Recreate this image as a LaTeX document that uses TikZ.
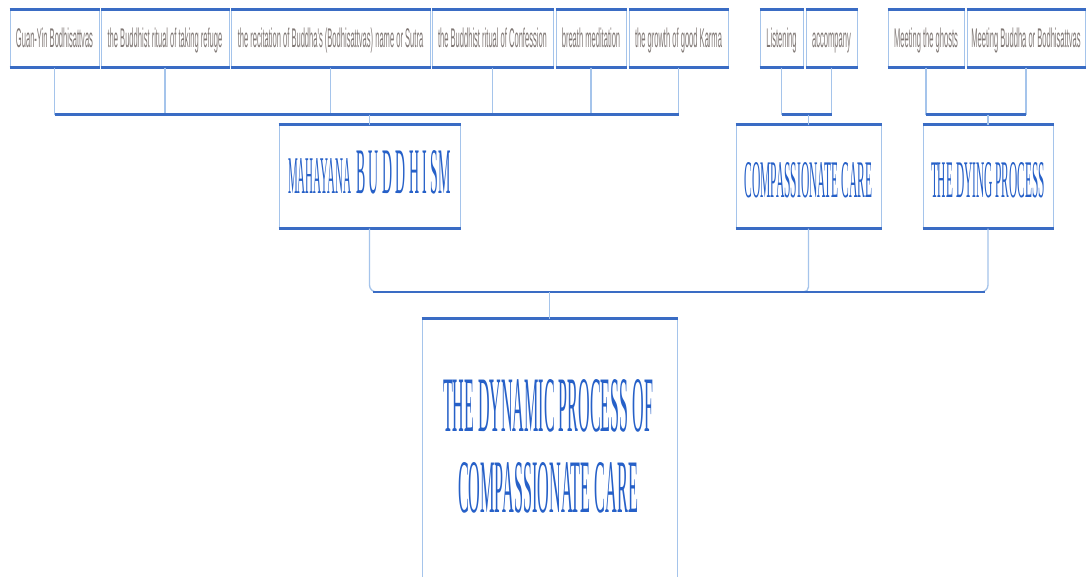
\documentclass[tikz,border=0pt]{standalone}
\usepackage{fontspec}
\usepackage{graphicx}
\newfontfamily\labelsans{Liberation Sans}
\newfontfamily\labelserif{Liberation Serif}
\definecolor{boxside}{RGB}{165,196,235}
\definecolor{boxedge}{RGB}{58,108,196}
\definecolor{titleblue}{RGB}{38,96,200}
\definecolor{graytext}{RGB}{128,120,117}
% condensed grey captions of the leaf boxes
\newcommand\squeeze[1]{\scalebox{0.28}[1]{#1}}
\begin{document}
\begin{tikzpicture}[x=1pt,y=-1pt,
  leafbox/.style={rectangle, draw=boxside, line width=1pt, inner sep=0pt,
    minimum height=57pt, text height=19.5pt, text depth=2pt,
    font=\labelsans\fontsize{27}{31}\selectfont, text=graytext},
  hubbox/.style={rectangle, draw=boxside, line width=1pt, inner sep=0pt,
    minimum height=103pt, font=\labelserif\fontsize{20}{24}\selectfont, text=titleblue},
  rootbox/.style={rectangle, draw=boxside, line width=1pt, inner sep=0pt},
  titletext/.style={inner sep=0pt, align=center, text=titleblue,
    font=\labelserif\fontsize{20}{81}\selectfont},
  edgebar/.style={draw=boxedge, line width=2.6pt},
  linkthin/.style={draw=boxside, line width=1.3pt},
  linkbar/.style={draw=boxedge, line width=2.6pt},
]
\useasboundingbox (0,0) rectangle (1087,576);
\fill[white] (0,0) rectangle (1087,576);

% leaf boxes
\node[leafbox, minimum width=89pt]  (t1)  at (54.5,38.5)  {\squeeze{Guan-Yin Bodhisattvas}};
\node[leafbox, minimum width=128pt] (t2)  at (165,38.5)   {\squeeze{the Buddhist ritual of taking refuge}};
\node[leafbox, minimum width=199pt] (t3)  at (330.5,38.5) {\squeeze{the recitation of Buddha's (Bodhisattvas) name or Sutra}};
\node[leafbox, minimum width=121pt] (t4)  at (492.5,38.5) {\squeeze{the Buddhist ritual of Confession}};
\node[leafbox, minimum width=70pt]  (t5)  at (591,38.5)   {\squeeze{breath meditation}};
\node[leafbox, minimum width=99pt]  (t6)  at (678.5,38.5) {\squeeze{the growth of good Karma}};
\node[leafbox, minimum width=43pt]  (t7)  at (781.5,38.5) {\squeeze{Listening}};
\node[leafbox, minimum width=51pt]  (t8)  at (831.5,38.5) {\squeeze{accompany}};
\node[leafbox, minimum width=76pt]  (t9)  at (926,38.5)   {\squeeze{Meeting the ghosts}};
\node[leafbox, minimum width=118pt] (t10) at (1026,38.5)  {\squeeze{Meeting Buddha or Bodhisattvas}};

% middle boxes
\node[hubbox, minimum width=181pt, text height=43pt, text depth=10pt] (mb) at (369.5,176.5)
  {\resizebox{63pt}{35pt}{MAHAYANA}\hspace{5pt}\resizebox{95pt}{43pt}{B U D D H I SM}};
\node[hubbox, minimum width=145pt, text height=47pt, text depth=6pt] (cc) at (808.5,176.5)
  {\resizebox{128pt}{35pt}{COMPASSIONATE CARE}};
\node[hubbox, minimum width=130pt, text height=47pt, text depth=6pt] (dp) at (988,176.5)
  {\resizebox{114pt}{35pt}{THE DYING PROCESS}};

% root box
\node[rootbox, minimum width=255pt, minimum height=258pt] (root) at (549.5,448) {};
\node[titletext] (rootlabel) at (548,446.5)
  {\resizebox{210pt}{52pt}{THE DYNAMIC PROCESS OF}\\\resizebox{180pt}{50pt}{COMPASSIONATE CARE}};

% heavy top and bottom edges of the boxes
\foreach \n in {t1,t2,t3,t4,t5,t6,t7,t8,t9,t10,mb,cc,dp}
  \draw[edgebar] (\n.north west) -- (\n.north east) (\n.south west) -- (\n.south east);
\draw[edgebar] (root.north west) -- (root.north east);

% junction points
\coordinate (ja) at (369.5,114.5);
\coordinate (jb) at (808.5,114.5);
\coordinate (jc) at (988,114.5);
\coordinate (jd) at (549.5,292);

% Mahayana Buddhism branch
\foreach \n in {t1,t2,t3,t4,t5,t6}
  \draw[linkthin] (\n.south) -- (\n.south |- ja);
\draw[linkbar] (t1.south |- ja) -- (t6.south |- ja);
\draw[linkthin] (ja) -- (mb.north);

% compassionate care branch
\foreach \n in {t7,t8}
  \draw[linkthin] (\n.south) -- (\n.south |- jb);
\draw[linkbar] (t7.south |- jb) -- (t8.south |- jb);
\draw[linkthin] (jb) -- (cc.north);

% dying process branch
\foreach \n in {t9,t10}
  \draw[linkthin] (\n.south) -- (\n.south |- jc);
\draw[linkbar] (t9.south |- jc) -- (t10.south |- jc);
\draw[linkthin] (jc) -- (dp.north);

% lower tree into the root
\draw[linkthin, rounded corners=7pt] (mb.south) |- (jd);
\draw[linkthin, rounded corners=7pt] (dp.south) |- (jd);
\draw[linkthin, rounded corners=5pt] (cc.south) |- ([xshift=-4pt]cc.south |- jd);
\draw[linkbar] ([xshift=3pt]mb.south |- jd) -- ([xshift=-3pt]dp.south |- jd);
\draw[linkthin] (jd) -- (root.north);
\end{tikzpicture}
\end{document}
